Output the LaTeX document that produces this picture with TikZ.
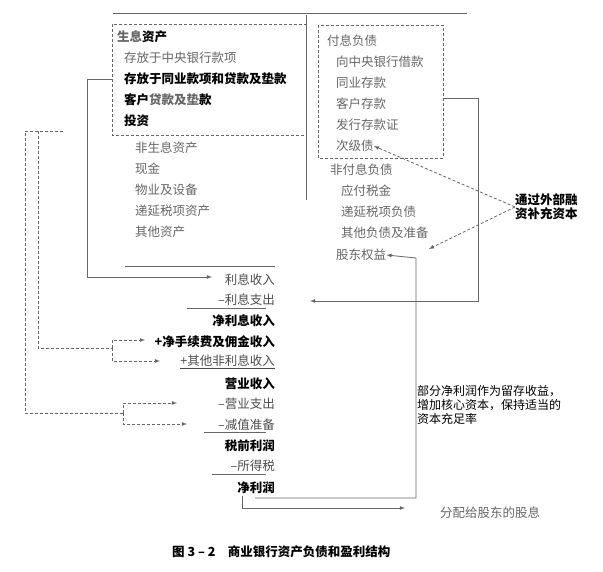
\documentclass[tikz,border=0pt]{standalone}
\usepackage{fontspec}
\setmainfont{Noto Sans CJK SC}
\usetikzlibrary{positioning}
\begin{document}
\begin{tikzpicture}[x=1pt,y=-1pt,font=\fontsize{12.5}{15}\selectfont,
  item/.style={anchor=west,inner sep=0pt,text=black!60},
  bold/.style={anchor=west,inner sep=0pt,text=black,font=\fontsize{12.5}{15}\selectfont\bfseries},
  inc/.style={anchor=east,inner sep=0pt,text=black!70},
  incb/.style={anchor=east,inner sep=0pt,text=black,font=\fontsize{12.5}{15}\selectfont\bfseries},
  dbox/.style={draw=black!60,densely dashed,thick},
  dline/.style={black!60,densely dashed,thick,-latex},
  sline/.style={black!60,thick}]
\useasboundingbox (0,0) rectangle (603,572);
%balance sheet frame
\draw[sline] (113,13) -- (467,13);
\draw[sline] (306,15) -- (306,200);
\draw[dbox] (112,24) rectangle (306,135);
\draw[dbox] (318,25) rectangle (443,158);
%assets
\node[bold] (ia) at (117,37) {\textcolor{black!60}{生息}资产};
\node[item] (a1) at (124,58) {存放于中央银行款项};
\node[bold] (a2) at (124,79) {存放于同业款项和贷款及垫款};
\node[bold] (a3) at (124,100) {客户\textcolor{black!60}{贷款及垫}款};
\node[bold] (a4) at (124,121) {投资};
\node[item] (na) at (135,148) {非生息资产};
\node[item] (b1) at (135,169) {现金};
\node[item] (b2) at (135,190) {物业及设备};
\node[item] (b3) at (135,211) {递延税项资产};
\node[item] (b4) at (135,232) {其他资产};
%liabilities
\node[item] (il) at (327,41) {付息负债};
\node[item] (l1) at (336,62) {向中央银行借款};
\node[item] (l2) at (336,83) {同业存款};
\node[item] (l3) at (336,104) {客户存款};
\node[item] (l4) at (336,125) {发行存款证};
\node[item] (l5) at (336,146) {次级债};
\node[item] (nl) at (330,170) {非付息负债};
\node[item] (m1) at (341,191) {应付税金};
\node[item] (m2) at (341,212) {递延税项负债};
\node[item] (m3) at (341,233) {其他负债及准备};
\node[item] (eq) at (336,255) {股东权益};
\node[bold,align=left,font=\fontsize{12.5}{14}\selectfont\bfseries] (ext) at (515,207) {通过外部融\\资补充资本};
%income statement
\draw[sline] (125,266) -- (275,266);
\node[inc] (r1) at (275,280) {利息收入};
\node[inc] (r2) at (275,300) {–利息支出};
\draw[sline] (187,308) -- (266,308);
\node[incb] (r3) at (275,321) {净利息收入};
\node[incb] (r4) at (275,342) {+净手续费及佣金收入};
\node[inc] (r5) at (275,362) {\underline{+其他非利息收入}};
\node[incb] (r6) at (275,384) {营业收入};
\node[inc] (r7) at (275,404) {–营业支出};
\node[inc] (r8) at (275,425) {–减值准备};
\draw[sline] (204,432) -- (266,432);
\node[incb] (r9) at (275,446) {税前利润};
\node[inc] (r10) at (275,466) {–所得税};
\draw[sline] (212,474) -- (266,474);
\node[incb] (r11) at (275,488) {净利润};
\node[item,align=left,text=black,font=\fontsize{12}{14}\selectfont] (ret) at (417,405) {部分净利润作为留存收益，\\增加核心资本，保持适当的\\资本充足率};
\node[item] (div) at (440,513) {分配给股东的股息};
\node[bold] (cap) at (172,552) {图 3 – 2\quad 商业银行资产负债和盈利结构};
%connectors
\draw[sline,-latex] (112,79) -- (87,79) -- (87,277) -- (212,277);
\draw[sline,-latex] (443,98) -- (478,98) -- (478,301) -- (310,301);
\draw[sline,-latex] (255,498) -- (416,498) -- (416,258) -- (eq.east);
\draw[sline,-latex] (242,496) |- (405,508);
\draw[dline] (ext.west) -- (l5.east);
\draw[dline] (ext.west) -- (m3.east |- eq.north);
%dashed feeds from the assets
\draw[black!60,densely dashed,thick] (63,131) -- (25,131) -- (25,413) -- (123,413);
\draw[black!60,densely dashed,thick] (38,131) -- (38,348) -- (112,348);
\draw[dline] (112,348) |- (145,340);
\draw[dline] (112,348) |- (160,361);
\draw[dline] (123,413) |- (177,403);
\draw[dline] (123,413) |- (187,424);
\end{tikzpicture}
\end{document}
